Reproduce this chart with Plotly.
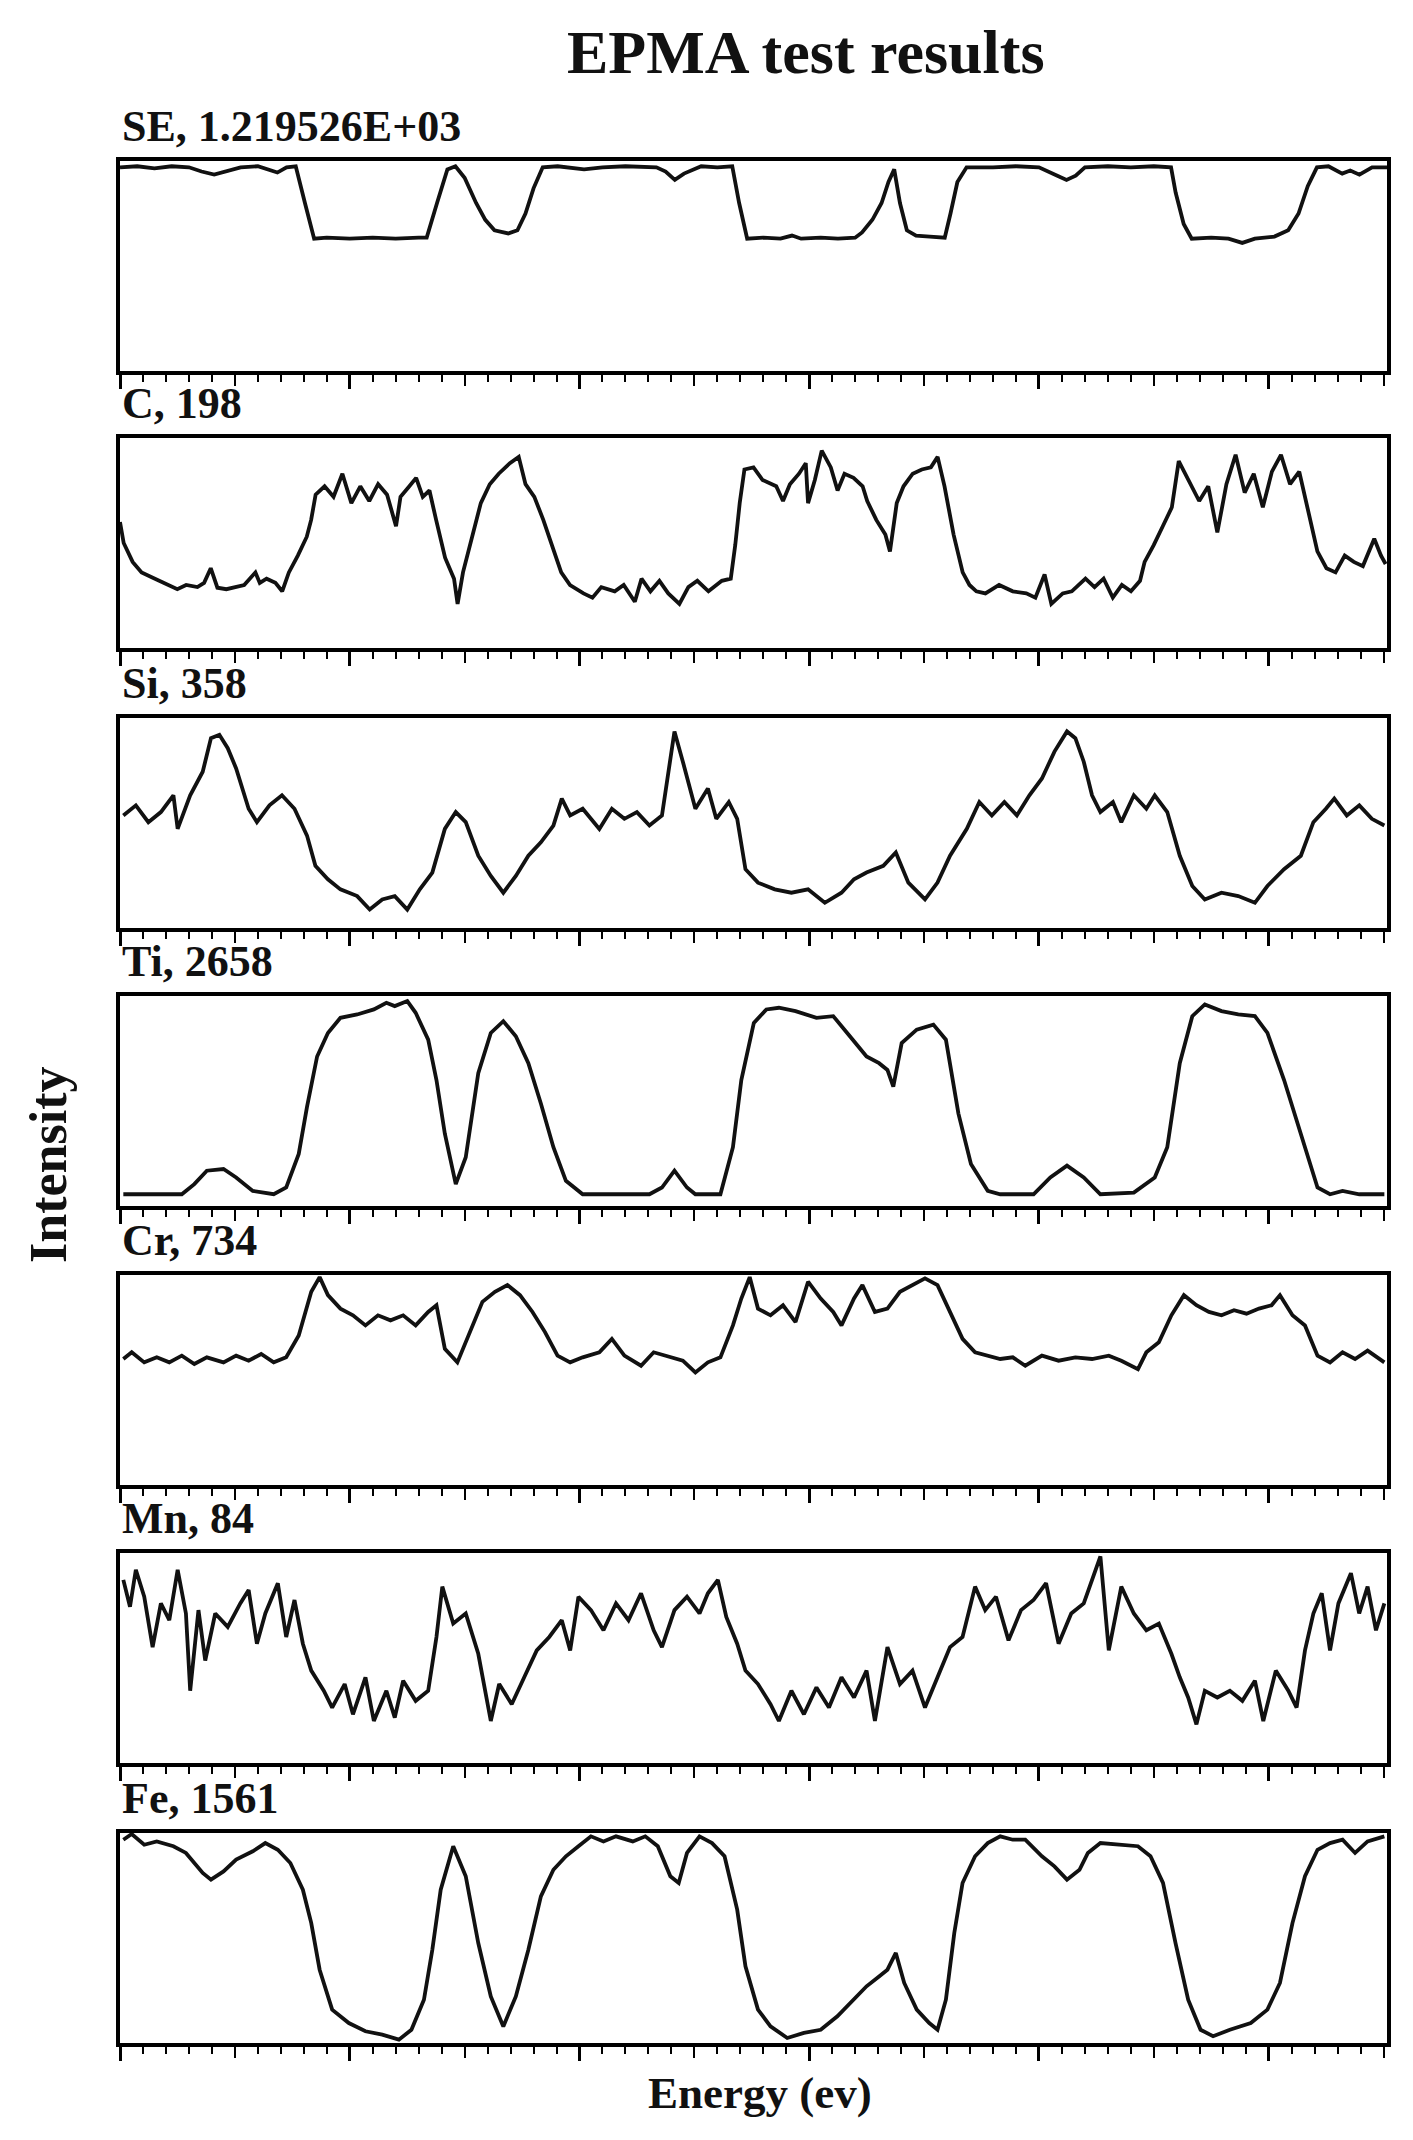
import plotly.graph_objects as go

TITLE = "EPMA test results"
X_TITLE = "Energy (ev)"
Y_TITLE = "Intensity"
LABELS = ["SE, 1.219526E+03", "C, 198", "Si, 358", "Ti, 2658", "Cr, 734", "Mn, 84", "Fe, 1561"]

# energy positions / intensities (scaled 0-100 inside each panel)
SE_X = [0, 1.5, 3, 4.5, 6, 7.1, 8.2, 9.4, 10.5, 12, 13, 13.7, 14.5, 15.3, 16.1, 16.9, 18, 20, 22, 24,
        26, 26.7, 27.6, 28.5, 29.2, 30.0, 31.0, 31.8, 32.6, 33.8, 34.6, 35.3, 36.0, 36.8, 38.1, 39.5,
        40.4, 42, 44, 46.7, 47.5, 48.3, 49.1, 50.6, 52, 53.3, 53.9, 54.6, 56, 57.5, 58.5, 59.3, 61,
        62.5, 64.0, 64.6, 65.5, 66.3, 66.9, 67.4, 67.9, 68.5, 69.3, 70.5, 71.8, 72.3, 72.9, 73.7, 76,
        78, 80, 81.6, 82.4, 83.2, 84, 86, 88, 90, 91.5, 91.9, 92.6, 93.3, 95, 96.5, 97.7, 98.8, 100.5,
        101.7, 102.6, 103.4, 104.2, 105.2, 106.4, 107.1, 107.9, 109, 110.3]
SE_Y = [97, 97.5, 96.5, 97.5, 97, 95, 93.5, 95.5, 97, 97.5, 95.5, 94.5, 97, 97.5, 80, 63, 63.5, 63, 63.5, 63,
        63.5, 63.5, 80, 96, 97.5, 92, 80, 72, 67, 65.5, 67, 75, 87, 97, 97.5, 96.5,
        96, 97, 97.5, 97, 95, 91, 94, 97.5, 97, 97.5, 80, 63, 63.5, 63, 64.5, 63, 63.5,
        63, 63.5, 66, 72, 80, 90, 96, 80, 67, 64.5, 64, 63.5, 75, 90, 97, 97,
        97.5, 97, 93, 91, 93, 97, 97.5, 97, 97.5, 97, 85, 70, 63, 63.5, 63, 61, 63, 64,
        67, 75, 88, 97, 97.5, 94, 95.5, 93.5, 97, 97]

C_X = [0, 0.32, 1.10, 1.88, 3.04, 4.21, 4.99, 5.76, 6.74, 7.32,
       7.90, 8.48, 9.26, 10.04, 10.81, 11.79, 12.17, 12.76, 13.53, 14.12,
       14.70, 15.48, 16.26, 16.64, 17.03, 17.81, 18.59, 19.36, 20.14, 20.92,
       21.70, 22.47, 23.25, 24.03, 24.42, 25.19, 25.78, 26.36, 26.94, 27.52,
       28.30, 29.08, 29.39, 29.86, 30.63, 31.41, 32.19, 32.97, 33.94, 34.71,
       35.30, 36.07, 36.85, 37.63, 38.41, 39.18, 40.35, 41.13, 41.90, 43.07,
       43.85, 44.82, 45.40, 46.18, 46.96, 47.73, 48.70, 49.48, 50.26, 51.23,
       52.39, 53.17, 53.56, 53.95, 54.36, 55.15, 55.94, 57.13, 57.72, 58.32,
       59.11, 59.70, 59.90, 60.49, 61.09, 61.88, 62.47, 63.07, 63.86, 64.65,
       65.05, 65.84, 66.63, 67.03, 67.62, 68.21, 69.01, 69.80, 70.59, 71.18,
       71.78, 72.57, 73.36, 73.95, 74.55, 75.34, 76.53, 77.72, 78.90, 79.69,
       80.49, 81.08, 82.07, 82.86, 84.05, 84.84, 85.63, 86.43, 87.22, 88.01,
       88.80, 89.20, 89.99, 90.78, 91.57, 92.17, 93.16, 93.95, 94.74, 95.53,
       96.32, 97.12, 97.91, 98.70, 99.49, 100.28, 101.07, 101.86, 102.66, 103.45,
       104.24, 105.03, 105.82, 106.62, 107.41, 108.20, 109.19, 109.78, 110.18]
C_Y = [60, 50, 41, 36, 33, 30, 28, 30, 29, 31,
       38, 28.7, 28, 29, 30, 36, 31, 33, 31, 27,
       36, 44, 53, 61, 73, 77, 72, 83, 69, 77,
       70, 78, 73, 58, 72, 77, 81, 72, 75, 61,
       43, 33, 21, 36, 53, 69, 78, 83, 88, 91,
       78, 72, 61, 49, 36, 30, 26, 24, 29, 27,
       30, 22, 33, 27, 32, 26, 21, 29, 32, 27,
       32, 33, 49, 69, 85, 86, 80, 77, 70, 78,
       83, 88, 69, 80, 94, 86, 75, 83, 81, 77,
       70, 61, 54, 46, 69, 77, 83, 85, 86, 91,
       77, 54, 36, 30, 27, 26, 30, 27, 26, 24,
       35, 21, 26, 27, 33, 29, 33, 24, 30, 27,
       32, 41, 49, 58, 67, 89, 78, 70, 77, 55,
       78, 92, 74, 83, 67, 84, 92, 78, 84, 64,
       46, 38, 36, 44, 41, 39, 52, 44, 40]

SI_X = [0.29, 1.38, 2.47, 3.56, 4.65, 5.02, 6.11, 7.20, 7.92, 8.65,
        9.38, 10.11, 11.20, 11.92, 13.01, 14.10, 15.19, 16.28, 17.01, 18.10,
        19.19, 20.65, 21.74, 22.83, 23.92, 25.01, 26.10, 27.19, 28.28, 29.23,
        30.10, 31.19, 32.28, 33.37, 34.46, 35.55, 36.64, 37.73, 38.46, 39.19,
        40.28, 41.73, 42.82, 43.91, 45.00, 46.09, 47.18, 47.91, 48.27, 49.00,
        50.09, 51.18, 51.91, 53.00, 53.73, 54.45, 55.54, 57.00, 58.45, 59.90,
        61.36, 62.81, 63.90, 64.99, 66.45, 67.54, 68.63, 70.08, 71.17, 72.26,
        73.72, 74.81, 75.90, 76.99, 78.08, 79.17, 80.26, 81.35, 82.44, 83.17,
        83.90, 84.62, 85.35, 86.44, 87.17, 88.26, 89.35, 90.08, 91.17, 92.26,
        93.35, 94.44, 95.89, 97.35, 98.80, 99.89, 101.34, 102.80, 103.89, 104.98,
        105.71, 106.80, 107.89, 108.98, 110.07]
SI_Y = [53.6, 58.4, 50.4, 55.2, 63.2, 47.2, 63.2, 74.4, 90.4, 92,
        85.6, 76, 56.8, 50.4, 58.4, 63.2, 56.8, 44, 29.6, 23.2,
        18.4, 15.2, 8.8, 13.6, 15.2, 8.8, 18.4, 26.4, 47.2, 55.2,
        50.4, 34.4, 24.8, 16.8, 24.8, 34.4, 40.8, 48.8, 61.6, 53.6,
        56.8, 47.2, 56.8, 52, 55.2, 48.8, 53.6, 79.2, 93.6, 79.2,
        56.8, 66.4, 52, 60, 52, 28, 21.6, 18.4, 16.8, 18.4,
        12, 16.8, 23.2, 26.4, 29.6, 36, 21.6, 13.6, 21.6, 34.4,
        47.2, 60, 53.6, 60, 53.6, 63.2, 71.2, 84, 93.6, 90.4,
        79.2, 63.2, 55.2, 60, 50.4, 63.2, 56.8, 63.2, 55.2, 34.4,
        20, 13.6, 16.8, 15.2, 12, 20, 28, 34.4, 50.4, 56.8,
        61.6, 53.6, 58.4, 52, 48.8]

TI_X = [0.29, 5.38, 6.47, 7.56, 9.01, 10.11, 11.56, 13.38, 14.47, 15.56,
        16.28, 17.16, 18.10, 19.19, 20.65, 22.10, 23.19, 23.92, 25.01, 25.74,
        26.83, 27.55, 28.28, 29.23, 30.10, 31.19, 32.28, 33.37, 34.46, 35.55,
        36.64, 37.73, 38.82, 40.28, 46.09, 47.18, 48.27, 49.36, 50.09, 52.27,
        53.36, 54.09, 55.18, 56.27, 57.36, 58.81, 60.63, 62.09, 63.54, 64.99,
        66.08, 66.81, 67.32, 68.05, 69.36, 70.81, 71.90, 72.99, 74.08, 75.54,
        76.63, 79.53, 80.99, 82.44, 83.90, 85.35, 88.26, 90.08, 91.17, 92.26,
        93.35, 94.44, 95.89, 97.35, 98.80, 99.89, 101.34, 102.80, 104.25, 105.34,
        106.43, 107.89, 110.07]
TI_Y = [5.6, 5.6, 10.4, 16.8, 17.6, 13.6, 7.2, 5.6, 8.8, 24.8,
        47.2, 71.2, 82.4, 89.6, 91.2, 93.6, 96.8, 95.2, 97.6, 92,
        79.2, 60, 34.4, 10.4, 23.2, 63.2, 82.4, 88, 80.8, 68,
        48.8, 28, 12, 5.6, 5.6, 8.8, 16.8, 8.8, 5.6, 5.6,
        28, 60, 87.2, 93.6, 94.4, 92.8, 89.6, 90.4, 80.8, 71.2,
        68, 64.8, 56.8, 77.6, 84, 86.4, 79.2, 44, 20, 7.2,
        5.6, 5.6, 13.6, 19.2, 13.6, 5.6, 6.4, 13.6, 28, 68,
        90.4, 96, 92.8, 91.2, 90.4, 82.4, 60, 34.4, 8.8, 5.6,
        7.2, 5.6, 5.6]

CR_X = [0.29, 1.02, 2.11, 3.20, 4.29, 5.38, 6.47, 7.56, 9.01, 10.11,
        11.20, 12.29, 13.38, 14.47, 15.56, 16.65, 17.38, 18.10, 19.19, 20.28,
        21.37, 22.46, 23.55, 24.65, 25.74, 26.83, 27.55, 28.28, 29.37, 30.46,
        31.55, 32.64, 33.73, 34.82, 35.91, 37.00, 38.09, 39.19, 40.28, 41.73,
        42.82, 43.91, 45.36, 46.46, 47.91, 49.00, 50.09, 51.18, 52.27, 53.36,
        54.09, 54.82, 55.54, 56.63, 57.72, 58.81, 59.90, 61.00, 62.09, 62.81,
        63.90, 64.63, 65.72, 66.81, 67.90, 68.99, 70.08, 71.17, 72.26, 73.35,
        74.44, 75.54, 76.63, 77.72, 78.81, 80.26, 81.71, 83.17, 84.62, 86.08,
        87.17, 88.62, 89.35, 90.44, 91.53, 92.62, 93.71, 94.80, 95.89, 96.98,
        98.07, 99.16, 100.25, 100.98, 102.07, 103.16, 104.25, 105.34, 106.43, 107.52,
        108.61, 110.07]
CR_Y = [60, 63.2, 58.4, 60.8, 58.4, 61.6, 57.6, 60.8, 58.4, 61.6,
        59.2, 62.4, 58.4, 60.8, 71.2, 92, 99, 90.4, 84, 80.8,
        76, 80.8, 78.4, 80.8, 76, 82.4, 85.6, 64.8, 58.4, 72.8,
        87.2, 92, 95.2, 90.4, 82.4, 72.8, 61.6, 58.4, 60.8, 63.2,
        69.6, 61.6, 56.8, 63.2, 60.8, 59.2, 53.6, 58.4, 60.8, 76,
        88.8, 99, 84, 80.8, 85.6, 77.6, 96.8, 88.8, 82.4, 76,
        88.8, 95.2, 82.4, 84, 92, 95.2, 98.4, 95.2, 82.4, 69.6,
        63.2, 61.6, 60, 60.8, 56.8, 61.6, 59.2, 60.8, 60, 61.6,
        59.2, 55.2, 63.2, 68, 80.8, 90.4, 85.6, 82.4, 80.8, 83.2,
        81.6, 84, 85.6, 90.4, 80.8, 76, 61.6, 58.4, 63.2, 60,
        64, 58.4]

MN_X = [0.29, 0.87, 1.38, 2.11, 2.84, 3.56, 4.29, 5.02, 5.74, 6.11,
        6.83, 7.42, 8.29, 9.38, 10.47, 11.20, 11.92, 12.65, 13.74, 14.47,
        15.19, 15.92, 16.65, 17.74, 18.47, 19.56, 20.28, 21.37, 22.10, 23.19,
        23.92, 24.65, 25.74, 26.83, 27.55, 28.06, 29.01, 30.10, 31.19, 32.28,
        33.01, 34.10, 35.19, 36.28, 37.37, 38.46, 39.19, 39.91, 41.00, 42.09,
        43.18, 44.27, 45.36, 46.46, 47.18, 48.27, 49.36, 50.45, 51.18, 52.05,
        52.78, 53.73, 54.45, 55.54, 56.63, 57.36, 58.45, 59.54, 60.63, 61.72,
        62.81, 63.90, 64.99, 65.72, 66.81, 67.90, 68.99, 70.08, 71.17, 72.26,
        73.35, 74.44, 75.32, 76.26, 77.35, 78.44, 79.53, 80.62, 81.71, 82.81,
        83.90, 84.99, 85.35, 86.08, 87.17, 88.26, 89.35, 90.44, 91.53, 92.26,
        92.99, 93.71, 94.44, 95.53, 96.62, 97.71, 98.80, 99.53, 100.62, 101.71,
        102.43, 103.16, 103.89, 104.62, 105.34, 106.07, 107.16, 107.88, 108.61, 109.34,
        110.07]
MN_Y = [87.2, 74.4, 92, 79.2, 55.2, 76, 68, 92, 71.2, 34.4,
        72.8, 48.8, 71.2, 64.8, 76, 82.4, 56.8, 71.2, 85.6, 60,
        77.6, 56.8, 44, 34.4, 26.4, 37.6, 23.2, 40.8, 20, 34.4,
        21.6, 39.2, 29.6, 34.4, 60, 84, 66.4, 71.2, 52, 20,
        37.6, 28, 40.8, 53.6, 60, 68, 53.6, 79.2, 72.8, 63.2,
        76, 68, 80.8, 63.2, 55.2, 72.8, 79.2, 71.2, 80.8, 87.2,
        69.6, 56.8, 44, 37.6, 28, 20, 34.4, 23.2, 36, 26.4,
        40.8, 31.2, 44, 20, 55.2, 37.6, 44, 26.4, 40.8, 55.2,
        60, 84, 72.8, 79.2, 58.4, 72.8, 77.6, 85.6, 56.8, 71.2,
        76, 92, 98.4, 53.6, 84, 71.2, 63.2, 66.4, 52, 40.8,
        31.2, 18.4, 34.4, 31.2, 34.4, 29.6, 39.2, 20, 44, 34.4,
        26.4, 53.6, 71.2, 80.8, 53.6, 76, 90.4, 71.2, 84, 63.2,
        76]

FE_X = [0.29, 1.02, 2.11, 3.20, 4.65, 5.74, 7.20, 7.92, 9.01, 10.11,
        11.56, 12.65, 13.74, 14.83, 15.92, 16.65, 17.38, 18.47, 19.92, 21.37,
        22.83, 24.28, 25.37, 26.46, 27.19, 27.92, 29.01, 30.10, 31.19, 32.28,
        33.37, 34.46, 35.55, 36.64, 37.73, 38.82, 39.91, 41.00, 42.09, 43.18,
        44.64, 45.73, 46.82, 47.91, 48.64, 49.36, 50.45, 51.54, 52.63, 53.73,
        54.45, 55.54, 56.63, 58.09, 59.54, 61.00, 62.45, 63.54, 64.99, 66.08,
        66.81, 67.54, 68.27, 69.36, 70.45, 71.17, 71.90, 72.63, 73.35, 74.44,
        75.54, 76.63, 77.72, 78.81, 80.26, 81.35, 82.44, 83.53, 84.26, 85.35,
        86.80, 88.62, 89.71, 90.80, 91.89, 92.99, 94.07, 95.16, 96.62, 98.44,
        99.89, 100.98, 102.07, 103.16, 104.25, 105.34, 106.43, 107.52, 108.61, 110.07]
FE_Y = [96.8, 99.5, 94.4, 96, 93.7, 90.5, 81, 77.8, 81.7, 87.3,
        91.3, 95.2, 92, 85.7, 73, 57.1, 34.9, 15.9, 9.5, 5.6,
        4, 1.6, 6.3, 20.6, 44.4, 73, 93.7, 79.4, 47.6, 22.2,
        7.9, 22.2, 44.4, 69.8, 82.5, 88.9, 93.7, 98.4, 96, 98.4,
        96, 98.4, 93.7, 79.4, 76.2, 90.5, 98.4, 95.2, 88.9, 63.5,
        36.5, 15.9, 7.9, 2.4, 4.8, 6.3, 12.7, 19, 27, 31.7,
        34.9, 42.9, 28.6, 15.9, 9.5, 6.3, 20.6, 52.4, 76.2, 88.9,
        95.2, 98.4, 96.8, 96.8, 88.9, 84.1, 77.8, 82.5, 90.5, 95.2,
        94.4, 93.7, 88.9, 76.2, 47.6, 20.6, 6.3, 3.2, 6.3, 9.5,
        15.9, 28.6, 57.1, 79.4, 92, 95.2, 96.8, 90.5, 96, 98.4]

SERIES = [(SE_X, SE_Y), (C_X, C_Y), (SI_X, SI_Y), (TI_X, TI_Y),
          (CR_X, CR_Y), (MN_X, MN_Y), (FE_X, FE_Y)]
for xs, ys in SERIES:
    assert len(xs) == len(ys), (len(xs), len(ys))

# page geometry in pixels
WIDTH, HEIGHT = 1413, 2140
PLOT_LEFT, PLOT_RIGHT = 112, 1379
PLOT_TOP, PLOT_BOTTOM = 153, 2036
PANEL_TOPS = [153, 430, 710, 988, 1267, 1545, 1825]
PANEL_HEIGHT = 210
X_MAX = 110.3
SERIF = "Liberation Serif, Times New Roman, serif"
INK = "#111111"


def py(pix):
    return (PLOT_BOTTOM - pix) / (PLOT_BOTTOM - PLOT_TOP)


def px(pix):
    return (pix - PLOT_LEFT) / (PLOT_RIGHT - PLOT_LEFT)


fig = go.Figure()
n = len(SERIES)
layout = {}
annotations = []

for i, ((xs, ys), label, top) in enumerate(zip(SERIES, LABELS, PANEL_TOPS), start=1):
    xa, ya = f"x{i}", f"y{i}"
    fig.add_trace(go.Scatter(x=xs, y=ys, mode="lines", xaxis=xa, yaxis=ya,
                             line=dict(color=INK, width=3.8), showlegend=False, hoverinfo="skip"))
    # helper axis carrying the long ticks every 20 units
    big = f"x{n + i}"
    fig.add_trace(go.Scatter(x=[], y=[], mode="lines", xaxis=big, yaxis=ya,
                             showlegend=False, hoverinfo="skip"))

    dom = [max(0.0, py(top + PANEL_HEIGHT)), min(1.0, py(top))]
    layout[f"xaxis{i}"] = dict(
        domain=[0, 1], anchor=ya, range=[0, X_MAX],
        showline=True, mirror=True, linewidth=3.5, linecolor="black",
        showgrid=False, zeroline=False, showticklabels=False,
        ticks="outside", tick0=0, dtick=10, ticklen=11, tickwidth=2.2, tickcolor="black",
        minor=dict(ticks="outside", dtick=2, ticklen=7, tickwidth=2, tickcolor="black", showgrid=False),
    )
    layout[f"xaxis{n + i}"] = dict(
        overlaying=xa, anchor=ya, side="bottom", range=[0, X_MAX],
        showline=False, showgrid=False, zeroline=False, showticklabels=False,
        tickmode="array", tickvals=[0, 20, 40, 60, 80, 100],
        ticks="outside", ticklen=17, tickwidth=2.6, tickcolor="black",
    )
    layout[f"yaxis{i}"] = dict(
        domain=dom, anchor=xa, range=[0, 100],
        showline=True, mirror=True, linewidth=3.5, linecolor="black",
        showgrid=False, zeroline=False, showticklabels=False, ticks="",
    )
    annotations.append(dict(
        text=label, xref="paper", yref="paper", x=0, y=dom[1],
        xanchor="left", yanchor="bottom", yshift=8, showarrow=False,
        font=dict(family=SERIF, size=44, color=INK, weight="bold"),
    ))

annotations += [
    dict(text=TITLE, xref="paper", yref="paper", x=px(798), y=py(80),
         xanchor="center", yanchor="bottom", showarrow=False,
         font=dict(family=SERIF, size=62, color=INK, weight="bold")),
    dict(text=X_TITLE, xref="paper", yref="paper", x=px(752), y=py(2112),
         xanchor="center", yanchor="bottom", showarrow=False,
         font=dict(family=SERIF, size=45, color=INK, weight="bold")),
    dict(text=Y_TITLE, xref="paper", yref="paper", x=px(40), y=py(1157),
         xanchor="center", yanchor="middle", textangle=-90, showarrow=False,
         font=dict(family=SERIF, size=52, color=INK, weight="bold")),
]

fig.update_layout(
    width=WIDTH, height=HEIGHT,
    margin=dict(l=PLOT_LEFT, r=WIDTH - PLOT_RIGHT, t=PLOT_TOP, b=HEIGHT - PLOT_BOTTOM),
    paper_bgcolor="white", plot_bgcolor="white",
    showlegend=False, annotations=annotations,
    **layout,
)

fig.write_html("out.html")
